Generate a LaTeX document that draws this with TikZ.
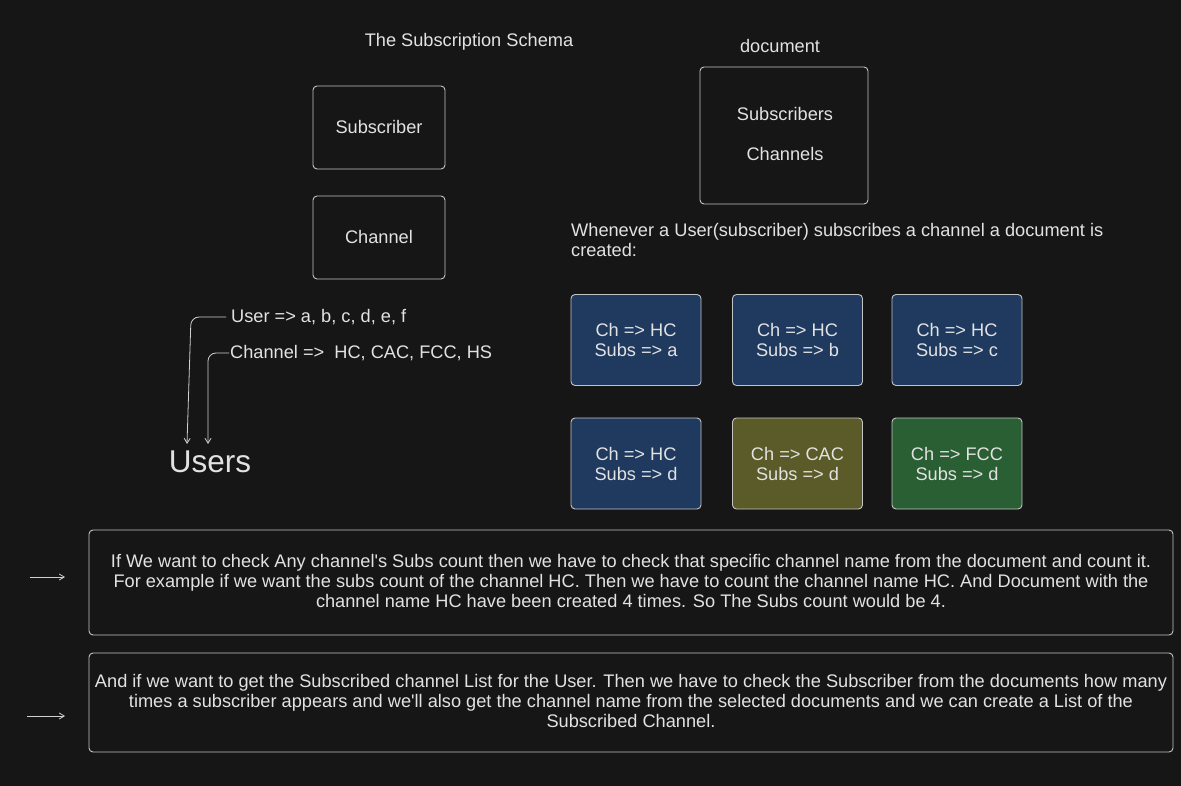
\documentclass[tikz,border=0pt]{standalone}
\usepackage{fontspec}
\setmainfont{Liberation Sans}
\usetikzlibrary{arrows.meta}
\definecolor{bg}{HTML}{161616}
\definecolor{ink}{HTML}{E2E2E2}
\definecolor{edge}{HTML}{C4C4C4}
\definecolor{bluefill}{HTML}{1F3A5E}
\definecolor{olivefill}{HTML}{5A5B28}
\definecolor{greenfill}{HTML}{2A5F33}
\tikzset{
  plainbox/.style={draw=edge, line width=0.9pt, rounded corners=4pt},
  txt/.style={text=ink, font=\fontsize{18.2}{20}\selectfont, inner sep=0pt, align=center},
  docbox/.style={draw=edge, line width=0.9pt, rounded corners=4pt, text=ink,
     font=\fontsize{18.2}{20}\selectfont, align=center, inner sep=0pt},
  conn/.style={draw=edge!80, line width=0.8pt, rounded corners=8pt, -{Straight Barb[length=5pt,width=6pt]}},
}
\begin{document}
\begin{tikzpicture}[x=1pt,y=-1pt]
\fill[bg] (0,0) rectangle (1181,786);
\useasboundingbox (0,0) rectangle (1181,786);

% titles
\node[txt] (title) at (469,42) {The Subscription Schema};
\node[txt] (doclabel) at (780,46) {document};

% schema boxes
\draw[plainbox] (313,86) rectangle (445,169);
\node[txt] (subscriber) at (379,127) {Subscriber};
\draw[plainbox] (313,196) rectangle (445,279);
\node[txt] (channel) at (379,237) {Channel};

% document box
\draw[plainbox] (700,67) rectangle (868,204);
\node[txt] (subs) at (785,114) {Subscribers};
\node[txt] (chans) at (785,154) {Channels};

% whenever text
\node[txt, anchor=north west, align=left] (when) at (571,223) {Whenever a User(subscriber) subscribes a channel a document is\\created:};

% user/channel lists
\node[txt, anchor=west] (userlist) at (231,317) {User => a, b, c, d, e, f};
\node[txt, anchor=west] (chanlist) at (230,353) {Channel =>\ \ HC, CAC, FCC, HS};
\node[text=ink, font=\fontsize{31.5}{33}\selectfont, inner sep=0pt] (users) at (210,462) {Users};
\coordinate (u1) at (187,444);
\coordinate (u2) at (208,444);
\draw[conn] ([xshift=-5pt]userlist.west) -- ++(-35,0) -- (u1);
\draw[conn] ([xshift=-1pt]chanlist.west) -- ++(-21,0) -- (u2);

% document grid
\foreach \nm/\x/\y/\fc/\ch/\sb in {
  d1/636/340/bluefill/HC/a,
  d2/797.5/340/bluefill/HC/b,
  d3/957/340/bluefill/HC/c,
  d4/636/463.5/bluefill/HC/d,
  d5/797.5/463.5/olivefill/CAC/d,
  d6/957/463.5/greenfill/FCC/d}{
  \node[docbox, fill=\fc, minimum width=130pt, minimum height=91pt] (\nm) at (\x,\y) {Ch => \ch\\Subs => \sb};
}

% bottom boxes
\draw[plainbox] (89,530) rectangle (1173,635);
\node[txt] (para1) at (631,581) {If We want to check Any channel\textquotesingle s Subs count then we have to check that specific channel name from the document and count it.\\For example if we want the subs count of the channel HC. Then we have to count the channel name HC. And Document with the\\channel name HC have been created 4 times. So The Subs count would be 4.};
\draw[plainbox] (89,653) rectangle (1173,752);
\node[txt] (para2) at (631,701) {And if we want to get the Subscribed channel List for the User. Then we have to check the Subscriber from the documents how many\\times a subscriber appears and we\textquotesingle ll also get the channel name from the selected documents and we can create a List of the\\Subscribed Channel.};

\coordinate (a1s) at (30,577);
\coordinate (a1e) at (65,577);
\coordinate (a2s) at (27,716);
\coordinate (a2e) at (65,716);
\draw[edge!80, line width=0.8pt, -{Straight Barb[length=5pt,width=6pt]}] (a1s) -- (a1e);
\draw[edge!80, line width=0.8pt, -{Straight Barb[length=5pt,width=6pt]}] (a2s) -- (a2e);
\end{tikzpicture}
\end{document}
